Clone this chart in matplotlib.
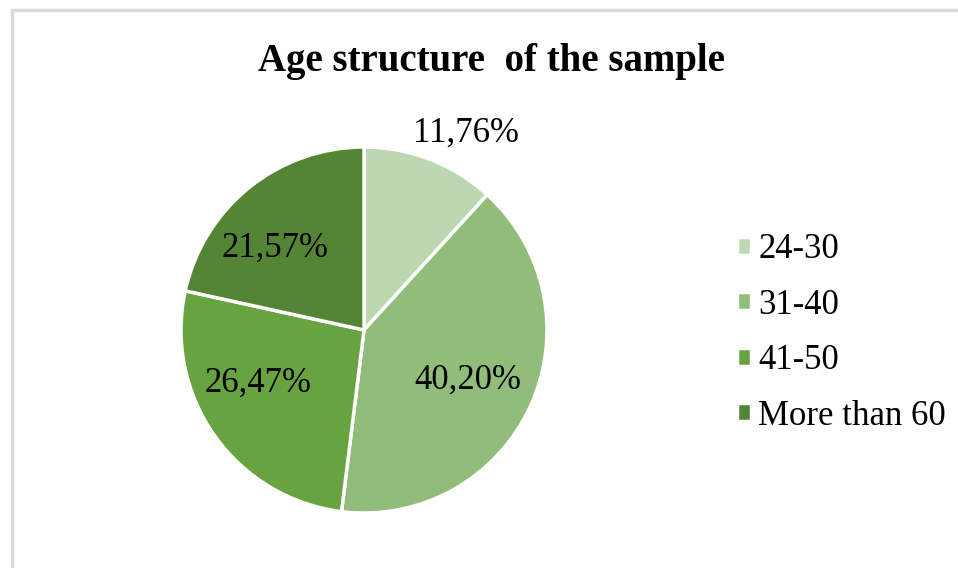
import matplotlib
matplotlib.use("Agg")
import matplotlib.pyplot as plt
from matplotlib.patches import Rectangle
import numpy as np

categories = ["24-30", "31-40", "41-50", "More than 60"]
values = [11.76, 40.20, 26.47, 21.57]
pct_labels = ["11,76%", "40,20%", "26,47%", "21,57%"]
colors = ["#bdd7b0", "#91bc7a", "#68a341", "#548535"]

plt.rcParams['font.family'] = ['Liberation Serif', 'DejaVu Serif']

fig = plt.figure(figsize=(9.58, 5.68), dpi=100)
fig.patches.append(Rectangle((12/958, -0.1), 1.2, (1 - 10/568) + 0.1,
                             transform=fig.transFigure, fill=False,
                             edgecolor="#d9d9d9", linewidth=2.5, zorder=0))

ax = fig.add_axes([(364-183)/958, (568-513)/568, 366/958, 366/568])
wedges, texts = ax.pie(values, colors=colors, startangle=90, counterclock=False,
                       wedgeprops=dict(edgecolor="white", linewidth=2.5),
                       radius=1.0)
# label placement: (distance from centre in radii, angular offset in degrees)
label_dist = [1.21, 0.63, 0.65, 0.66]
label_shift = [-6.2, -1.0, -8.7, 8.4]
for w, lab, d, s in zip(wedges, pct_labels, label_dist, label_shift):
    ang = np.deg2rad((w.theta1 + w.theta2) / 2 + s)
    ax.text(d*np.cos(ang), d*np.sin(ang), lab, ha="center", va="center",
            fontsize=25, color="black")
ax.set_xlim(-1, 1); ax.set_ylim(-1, 1)
ax.set_aspect("equal")
ax.axis("off")

fig.text(491/958, 1 - 61/568, "Age structure  of the sample", ha="center", va="center",
         fontsize=28, fontweight="bold")

leg = fig.legend(wedges, categories, loc="center left",
                 bbox_to_anchor=(706/958, 1 - 333/568), frameon=False,
                 fontsize=25, labelspacing=0.65, handlelength=0.40, handleheight=0.42,
                 handletextpad=0.20)

fig.savefig("out.png", dpi=100)
